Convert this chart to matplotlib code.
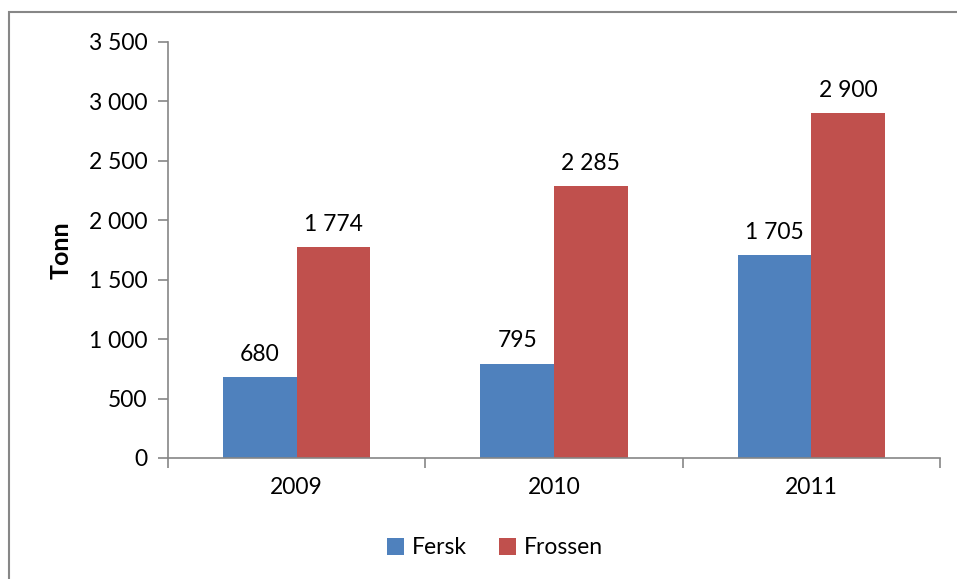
import matplotlib
matplotlib.use("Agg")
import matplotlib.pyplot as plt
from matplotlib.patches import Rectangle
import numpy as np

categories = ["2009", "2010", "2011"]
fersk = [680, 795, 1705]
frossen = [1774, 2285, 2900]
series_names = ["Fersk", "Frossen"]
colors = ["#4F81BD", "#C0504D"]
yticks = [0, 500, 1000, 1500, 2000, 2500, 3000, 3500]

def fmt(v):
    return f"{v:,}".replace(",", " ")

plt.rcParams['font.family'] = ['Lato', 'DejaVu Sans']

fig = plt.figure(figsize=(9.57, 5.79), dpi=100)
W, H = 957, 579
# outer chart border
fig.patches.append(Rectangle((9 / W, 0 - 0.01), 1.0, 1 - 12 / H + 0.01,
                             transform=fig.transFigure, fill=False,
                             edgecolor="#878787", linewidth=1.5))

ax = fig.add_axes([168 / W, 1 - 458 / H, (940 - 168) / W, (458 - 42) / H])
x = np.arange(len(categories))
bw = 1 / 3.5
b1 = ax.bar(x - bw / 2, fersk, bw, color=colors[0], label=series_names[0])
b2 = ax.bar(x + bw / 2, frossen, bw, color=colors[1], label=series_names[1])

for bars, vals in ((b1, fersk), (b2, frossen)):
    for r, v in zip(bars, vals):
        ax.annotate(fmt(v), (r.get_x() + r.get_width() / 2, v),
                    xytext=(0, 9), textcoords="offset points",
                    ha="center", va="bottom", fontsize=16.5, color="black")

ax.set_xlim(-0.5, len(categories) - 0.5)
ax.set_ylim(0, 3500)
ax.set_yticks(yticks)
ax.set_yticklabels([fmt(v) for v in yticks], fontsize=16.5)
ax.set_xticks(np.arange(-0.5, len(categories), 1.0))
ax.set_xticklabels([])
ax.set_xticks(x, minor=True)
ax.set_xticklabels(categories, minor=True, fontsize=16.5)
ax.tick_params(axis="x", which="minor", length=0, pad=14)
ax.tick_params(axis="x", which="major", length=7, width=1.2, color="#868686", direction="out")
ax.tick_params(axis="y", length=7, width=1.2, color="#868686", direction="out", pad=8)

for s in ("top", "right"):
    ax.spines[s].set_visible(False)
for s in ("left", "bottom"):
    ax.spines[s].set_color("#868686")
    ax.spines[s].set_linewidth(1.2)

ax.set_ylabel("Tonn", fontsize=18, fontweight="bold")
ax.yaxis.set_label_coords(-0.123, 0.5)

fig.legend(handles=[b1, b2], labels=series_names, loc="center",
           bbox_to_anchor=(495 / W, 1 - 548 / H), ncol=2, frameon=False,
           fontsize=16.5, handlelength=0.75, handleheight=0.75,
           handletextpad=0.35, columnspacing=1.4)

fig.savefig("out.png", dpi=100)
